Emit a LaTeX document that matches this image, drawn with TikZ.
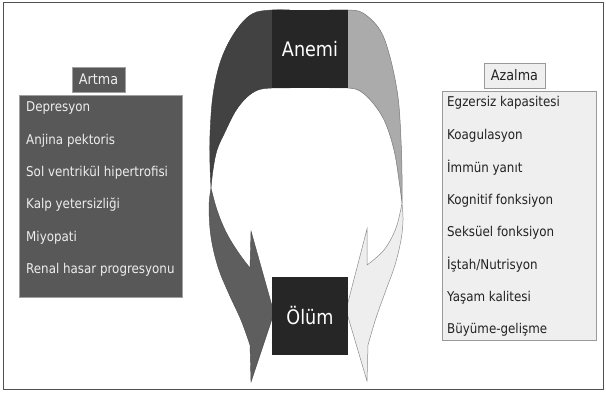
\documentclass[tikz,border=0pt]{standalone}
\usepackage{fontspec}
\setmainfont{DejaVu Sans}
\newfontfamily\tah[FakeStretch=0.88]{DejaVu Sans}
\definecolor{frameC}{HTML}{505050}
\definecolor{boxdark}{HTML}{262626}
\definecolor{artmaC}{HTML}{585858}
\definecolor{artmaB}{HTML}{A0A0A0}
\definecolor{azalC}{HTML}{EFEFEF}
\definecolor{azalB}{HTML}{9A9A9A}
\definecolor{ltopC}{HTML}{424242}
\definecolor{lbotC}{HTML}{5E5E5E}
\definecolor{rtopC}{HTML}{ABABAB}
\definecolor{rbotC}{HTML}{EEEEEE}
\definecolor{itemW}{HTML}{EEEEEE}
\definecolor{itemB}{HTML}{222222}
\tikzset{
  bigbox/.style={fill=boxdark, draw=none, text=white, minimum width=76pt, minimum height=78pt, inner sep=0pt, font=\tah\fontsize{20}{24}\selectfont},
  darkitem/.style={anchor=west, inner sep=0pt, text=itemW, font=\tah\fontsize{13.5}{15}\selectfont},
  lightitem/.style={anchor=west, inner sep=0pt, text=itemB, font=\tah\fontsize{13.5}{15}\selectfont},
  ltop/.style={fill=ltopC, draw=ltopC!80!black, line width=0.4pt},
  lbot/.style={fill=lbotC, draw=lbotC!80!black, line width=0.4pt},
  rtop/.style={fill=rtopC, draw=rtopC!70!black, line width=0.5pt},
  rbot/.style={fill=rbotC, draw=black!45, line width=0.5pt},
}
\begin{document}
\begin{tikzpicture}[x=1pt,y=-1pt]
\useasboundingbox (0,0) rectangle (606,392);
\fill[white] (0,0) rectangle (606,392);
\draw[frameC, line width=0.9pt] (3,2.5) rectangle (603,389);

% left ribbon
\filldraw[ltop] plot[smooth,tension=0.6] coordinates {(290,10) (272,10) (252,14) (235,32) (221,60) (213,95) (210,135) (210,165) (211,188)}
  -- plot[smooth,tension=0.6] coordinates {(211,188) (213,170) (217,150) (225,132) (235,112) (246,98) (258,90) (272,88) (290,88)} -- cycle;
\filldraw[lbot] plot[smooth,tension=0.6] coordinates {(211,188) (209,207) (211,237) (218,267) (229,294) (241,320) (250,345)}
  -- (251,382) -- (274,313) -- (251,231) -- (250,268)
  -- plot[smooth,tension=0.6] coordinates {(250,268) (238,252) (226,232) (217,210) (211,188)} -- cycle;

% right ribbon
\filldraw[rtop] plot[smooth,tension=0.6] coordinates {(330,10) (348,10) (363,13) (380,30) (390,57) (398,97) (401,140) (402,175) (402,203)}
  -- plot[smooth,tension=0.6] coordinates {(402,203) (399,180) (394,150) (385,122) (373,103) (360,91) (348,88) (330,88)} -- cycle;
\filldraw[rbot] plot[smooth,tension=0.6] coordinates {(402,203) (403,220) (401,240) (395,265) (386,290) (376,318) (368,345)}
  -- (367,381) -- (346,310) -- (367,229) -- (367,265)
  -- plot[smooth,tension=0.6] coordinates {(367,265) (384,250) (396,228) (402,203)} -- cycle;

% central boxes
\node[bigbox] (anemi) at (310,49) {Anemi};
\node[bigbox] (olum) at (310,316) {Ölüm};

% Artma
\node[fill=artmaC, draw=artmaB, line width=0.5pt, minimum width=163pt, minimum height=202pt, inner sep=0pt] (artmabox) at (100.5,196) {};
\node[fill=artmaC, draw=artmaB, line width=0.5pt, minimum width=53pt, minimum height=25pt, inner sep=0pt, text=itemW, font=\tah\fontsize{14.5}{16}\selectfont] (artma) at (98.5,79.5) {Artma};
\node[darkitem] (a1) at (26,108) {Depresyon};
\node[darkitem] (a2) at (26,140.5) {Anjina pektoris};
\node[darkitem] (a3) at (26,173) {Sol ventrikül hipertrofisi};
\node[darkitem] (a4) at (26,205) {Kalp yetersizliği};
\node[darkitem] (a5) at (26,237.5) {Miyopati};
\node[darkitem] (a6) at (26,270) {Renal hasar progresyonu};

% Azalma
\node[fill=azalC, draw=azalB, line width=0.5pt, minimum width=154pt, minimum height=249pt, inner sep=0pt] (azalbox) at (519,215.5) {};
\node[fill=azalC, draw=azalB, line width=0.5pt, minimum width=61pt, minimum height=25pt, inner sep=0pt, text=itemB, font=\tah\fontsize{14.5}{16}\selectfont] (azalma) at (514.5,75.5) {Azalma};
\node[lightitem] (b1) at (447,103) {Egzersiz kapasitesi};
\node[lightitem] (b2) at (447,135.5) {Koagulasyon};
\node[lightitem] (b3) at (447,168) {İmmün yanıt};
\node[lightitem] (b4) at (447,200.5) {Kognitif fonksiyon};
\node[lightitem] (b5) at (447,233) {Seksüel fonksiyon};
\node[lightitem] (b6) at (447,265) {İştah/Nutrisyon};
\node[lightitem] (b7) at (447,297.5) {Yaşam kalitesi};
\node[lightitem] (b8) at (447,330) {Büyüme-gelişme};
\end{tikzpicture}
\end{document}
